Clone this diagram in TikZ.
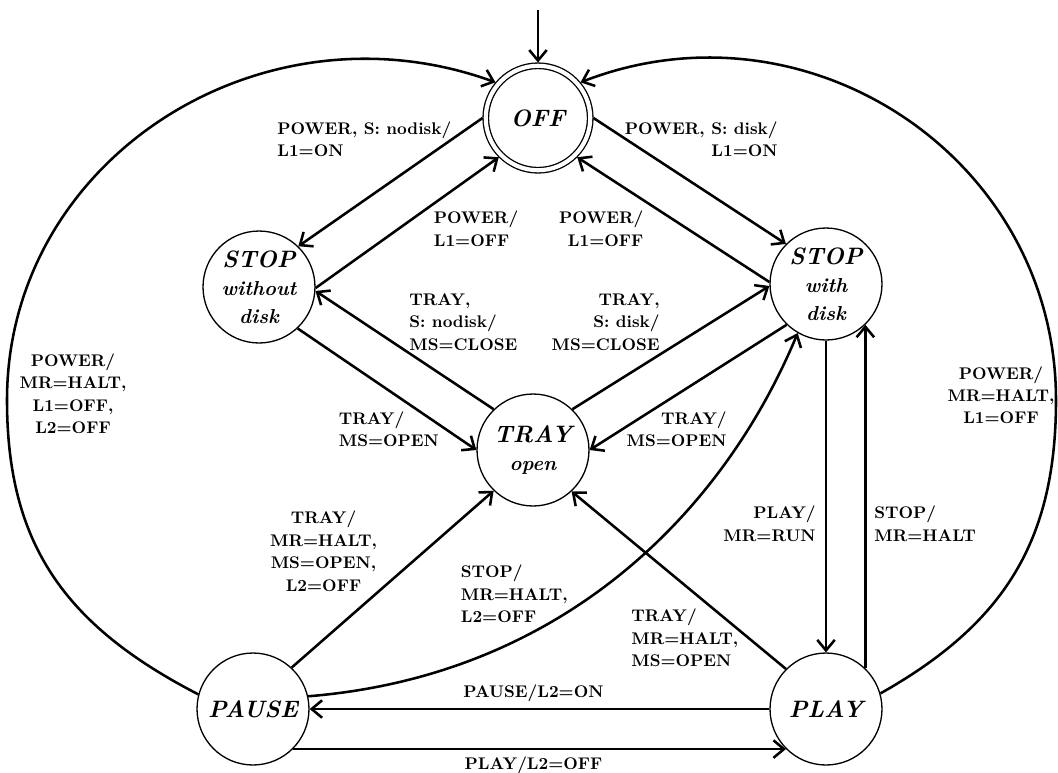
\documentclass[tikz,border=0pt]{standalone}
\usetikzlibrary{arrows.meta}
\newcommand\subfont{\fontsize{11.5}{14}\selectfont}
\begin{document}
\begin{tikzpicture}[x=0.02cm, y=-0.02cm,
  state/.style={circle, draw, line width=0.75pt, minimum size=2.24cm, inner sep=0pt,
    align=center, font=\fontsize{13.5}{16}\selectfont\bfseries\itshape},
  final/.style={state, double, double distance=0.083cm, minimum size=2.09cm, outer sep=0.065cm},
  edge/.style={line width=1.45pt, -{Straight Barb[length=2.1mm,width=3.5mm]}},
  lbl/.style={inner sep=0pt, font=\fontsize{9.6}{12.8}\selectfont\bfseries}]

\useasboundingbox (0,0) rectangle (1058,772);

% states
\node[final] (OFF)   at (538,118) {OFF};
\node[state] (STOPw) at (259,287) {STOP\\{\subfont without}\\{\subfont disk}};
\node[state] (STOPd) at (826,284) {STOP\\{\subfont with}\\{\subfont disk}};
\node[state] (TRAY)  at (533,450) {TRAY\\{\subfont open}};
\node[state] (PAUSE) at (253,709) {PAUSE};
\node[state] (PLAY)  at (826,709) {PLAY};

% initial transition
\coordinate (init) at (538,10);
\draw[edge] (init) -- (OFF.90);

% power on / off
\draw[edge] (OFF.180) -- (STOPw.46);
\draw[edge] (STOPw.-1) -- (OFF.225);
\draw[edge] (OFF.0) -- (STOPd.135);
\draw[edge] (STOPd.178) -- (OFF.-45);

% tray handling
\draw[edge] (TRAY.134) -- (STOPw.-4);
\draw[edge] (STOPw.-47) -- (TRAY.180);
\draw[edge] (STOPd.226) -- (TRAY.0);
\draw[edge] (TRAY.46) -- (STOPd.182);
\draw[edge] (PLAY.135) -- (TRAY.-47);
\draw[edge] (PAUSE.47) -- (TRAY.226);

% play / stop / pause
\draw[edge] (STOPd.270) -- (PLAY.90);
\draw[edge] (PLAY.46) -- (STOPd.-46);
\draw[edge] (PAUSE.13) .. controls (557.5,676.2) and (720.5,518) .. (STOPd.240);
\draw[edge] (PLAY.180) -- (PAUSE.0);
\draw[edge] (PAUSE.-45) -- (PLAY.225);

% power off from pause and play
\draw[edge] (PAUSE.165) .. controls (64.6,625.3) and (7,544) .. (7,400)
  .. controls (7,159.9) and (259.9,-3.1) .. (OFF.140);
\draw[edge] (PLAY.16) .. controls (1004.5,623.5) and (1056,540.6) .. (1056,400)
  .. controls (1056,158.4) and (808.2,-6) .. (OFF.40);

% transition labels
\node[lbl, align=left,   anchor=north west] (l1)  at (277,121)   {POWER, S: nodisk/\\L1=ON};
\node[lbl, align=left,   anchor=north west] (l2)  at (433.5,210.7) {POWER/\\L1=OFF};
\node[lbl, align=right,  anchor=north east] (l3)  at (778,121)   {POWER, S: disk/\\L1=ON};
\node[lbl, align=right,  anchor=north east] (l4)  at (643.7,210.7) {POWER/\\L1=OFF};
\node[lbl, align=left,   anchor=north west] (l5)  at (409,293.3) {TRAY,\\S: nodisk/\\MS=CLOSE};
\node[lbl, align=right,  anchor=north east] (l6)  at (660,293.3) {TRAY,\\S: disk/\\MS=CLOSE};
\node[lbl, align=center, anchor=north]      (l7)  at (73,353.4)  {POWER/\\MR=HALT,\\L1=OFF,\\L2=OFF};
\node[lbl, align=center, anchor=north]      (l8)  at (1001,366) {POWER/\\MR=HALT,\\L1=OFF};
\node[lbl, align=left,   anchor=north west] (l9)  at (338.5,411) {TRAY/\\MS=OPEN};
\node[lbl, align=right,  anchor=north east] (l10) at (727,411)   {TRAY/\\MS=OPEN};
\node[lbl, align=right,  anchor=north east] (l11) at (816,505.6) {PLAY/\\MR=RUN};
\node[lbl, align=left,   anchor=north west] (l12) at (874,505.6) {STOP/\\MR=HALT};
\node[lbl, align=center, anchor=north]      (l13) at (323.5,510.6) {TRAY/\\MR=HALT,\\MS=OPEN,\\L2=OFF};
\node[lbl, align=left,   anchor=north west] (l14) at (460.5,564.6) {STOP/\\MR=HALT,\\L2=OFF};
\node[lbl, align=left,   anchor=north west] (l15) at (631,608.5) {TRAY/\\MR=HALT,\\MS=OPEN};
\node[lbl, anchor=north] (l16) at (533.5,684.4) {PAUSE/L2=ON};
\node[lbl, anchor=north] (l17) at (533.5,756.5) {PLAY/L2=OFF};
\end{tikzpicture}
\end{document}
